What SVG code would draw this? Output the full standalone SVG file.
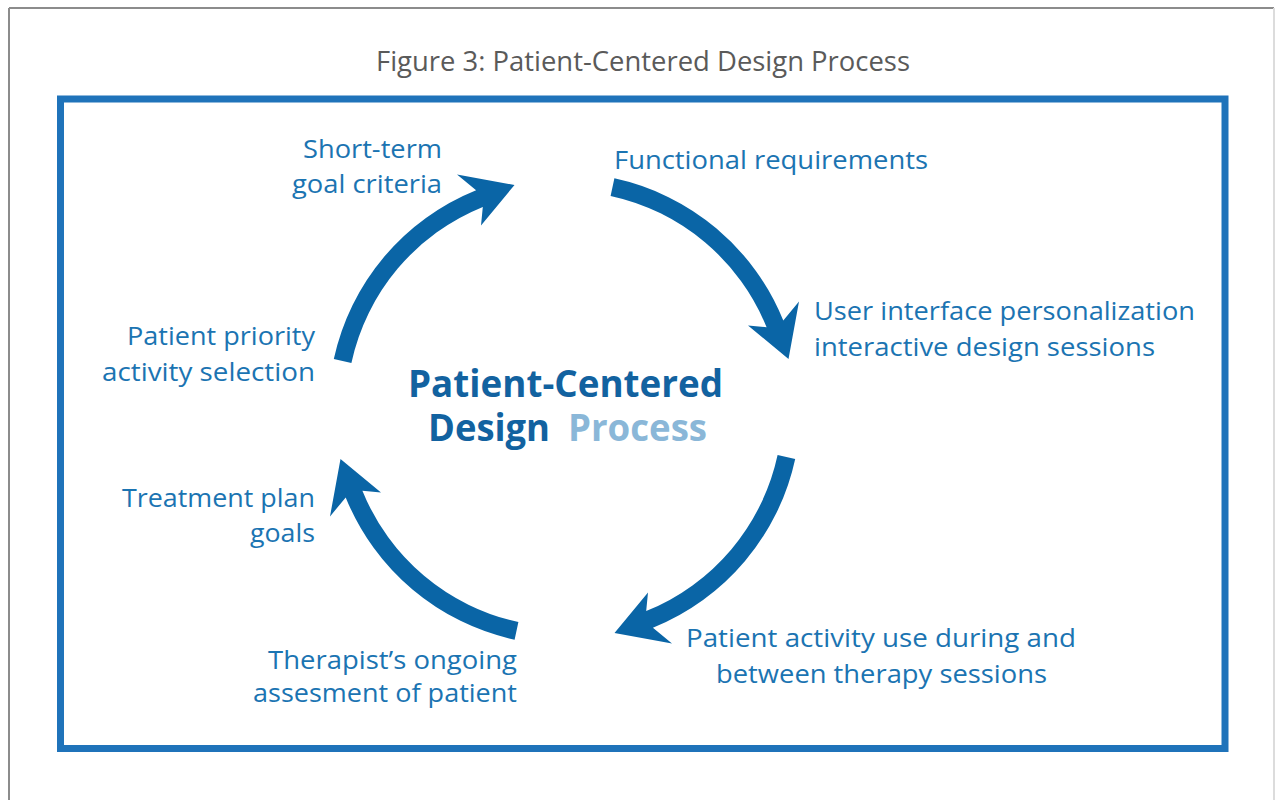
<svg xmlns="http://www.w3.org/2000/svg" width="1276" height="800" viewBox="0 0 1276 800">
  <style>
    .label { font-family: "Open Sans", "Noto Sans", "Liberation Sans", sans-serif; font-size: 26px; fill: #1b74b2; }
    .title { font-family: "Open Sans", "Noto Sans", "Liberation Sans", sans-serif; font-size: 27px; fill: #5a5a5a; }
    .hub { font-family: "Open Sans", "Noto Sans", "Liberation Sans", sans-serif; font-size: 38px; font-weight: bold; fill: #1262a0; }
    .hub-light { fill: #8ab7d8; }
    .arrow { fill: #0a65a6; }
  </style>
  <defs>
    <!-- one quarter of the cycle: thick arc with a barbed head, centred on (564.5, 409) -->
    <path id="cycle-arrow" d="M614.4,178.3 A236,236 0 0 1 783.3,320.6 L799,301.5 L788.5,359 L748,325.5 L766.6,327.3 A218,218 0 0 0 610.6,195.9 Z"/>
  </defs>

  <rect width="1276" height="800" fill="#ffffff"/>

  <!-- page frame -->
  <g id="frame">
    <line x1="9" y1="8" x2="1274" y2="8" stroke="#8c8c8c" stroke-width="2"/>
    <line x1="9" y1="8" x2="9" y2="800" stroke="#8c8c8c" stroke-width="2"/>
    <line x1="1274" y1="8" x2="1274" y2="800" stroke="#dcdcdc" stroke-width="2"/>
  </g>

  <text id="figure-title" class="title" x="376" y="71" textLength="534" lengthAdjust="spacingAndGlyphs">Figure 3: Patient-Centered Design Process</text>

  <!-- blue panel -->
  <rect id="panel" x="60.5" y="99" width="1164.5" height="649.5" fill="none" stroke="#1f73ba" stroke-width="7"/>

  <!-- cycle arrows -->
  <g id="connectors" class="arrow">
    <use href="#cycle-arrow"/>
    <use href="#cycle-arrow" transform="rotate(90 564.5 409)"/>
    <use href="#cycle-arrow" transform="rotate(180 564.5 409)"/>
    <use href="#cycle-arrow" transform="rotate(270 564.5 409)"/>
  </g>

  <!-- centre heading -->
  <g id="hub">
    <text class="hub" x="408" y="397" textLength="315" lengthAdjust="spacingAndGlyphs">Patient-Centered</text>
    <text class="hub" x="428" y="441" textLength="122" lengthAdjust="spacingAndGlyphs">Design</text>
    <text class="hub hub-light" x="568" y="441" textLength="139" lengthAdjust="spacingAndGlyphs">Process</text>
  </g>

  <g id="short-term-goals">
    <text class="label" x="303" y="158" textLength="139" lengthAdjust="spacingAndGlyphs">Short-term</text>
    <text class="label" x="292" y="193" textLength="150" lengthAdjust="spacingAndGlyphs">goal criteria</text>
  </g>

  <g id="functional-requirements">
    <text class="label" x="614" y="169" textLength="314" lengthAdjust="spacingAndGlyphs">Functional requirements</text>
  </g>

  <g id="ui-personalization">
    <text class="label" x="814" y="320" textLength="381" lengthAdjust="spacingAndGlyphs">User interface personalization</text>
    <text class="label" x="814" y="356" textLength="341" lengthAdjust="spacingAndGlyphs">interactive design sessions</text>
  </g>

  <g id="activity-use">
    <text class="label" x="686" y="647" textLength="390" lengthAdjust="spacingAndGlyphs">Patient activity use during and</text>
    <text class="label" x="716" y="683" textLength="331" lengthAdjust="spacingAndGlyphs">between therapy sessions</text>
  </g>

  <g id="therapist-assessment">
    <text class="label" x="268" y="669" textLength="249" lengthAdjust="spacingAndGlyphs">Therapist’s ongoing</text>
    <text class="label" x="253" y="702" textLength="264" lengthAdjust="spacingAndGlyphs">assesment of patient</text>
  </g>

  <g id="treatment-plan">
    <text class="label" x="122" y="507" textLength="193" lengthAdjust="spacingAndGlyphs">Treatment plan</text>
    <text class="label" x="250" y="542" textLength="65" lengthAdjust="spacingAndGlyphs">goals</text>
  </g>

  <g id="priority-selection">
    <text class="label" x="127" y="345" textLength="188" lengthAdjust="spacingAndGlyphs">Patient priority</text>
    <text class="label" x="102" y="381" textLength="213" lengthAdjust="spacingAndGlyphs">activity selection</text>
  </g>
</svg>
